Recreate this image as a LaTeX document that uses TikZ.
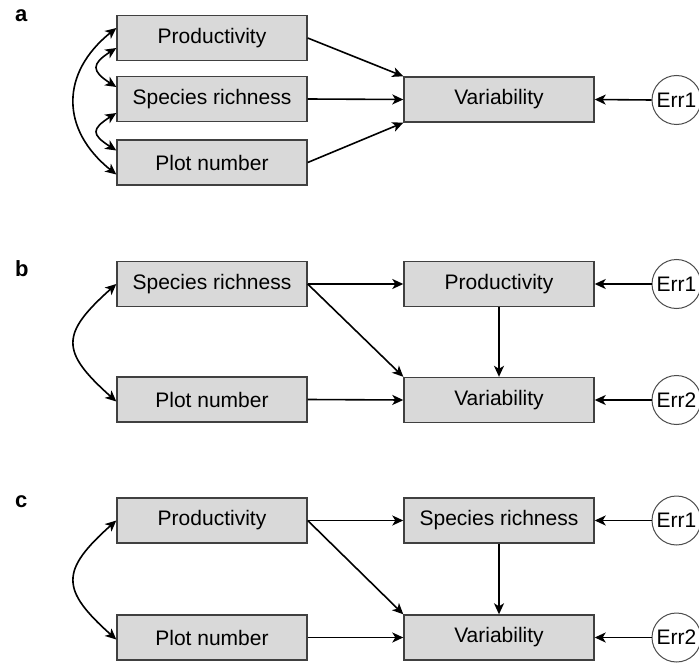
\documentclass[tikz,border=0pt]{standalone}
\usepackage{fontspec}
\setmainfont{Liberation Sans}
\usetikzlibrary{arrows.meta,calc}
\begin{document}
\begin{tikzpicture}[x=1pt,y=-1pt,
  box/.style={draw=black!75, fill=black!15, line width=1.4pt, minimum width=190pt, minimum height=45pt, inner sep=0pt, font=\fontsize{21}{25}\selectfont},
  err/.style={circle, draw=black!70, line width=1pt, minimum size=49pt, inner sep=0pt, fill=white, font=\fontsize{21}{25}\selectfont},
  arr/.style={-{Stealth[length=11pt,width=10pt,inset=3pt]}, line width=1.6pt},
  darr/.style={{Stealth[length=11pt,width=10pt,inset=3pt]}-{Stealth[length=11pt,width=10pt,inset=3pt]}, line width=1.6pt},
  lab/.style={anchor=base west, inner sep=0pt, font=\fontsize{22}{26}\selectfont\bfseries}]
\useasboundingbox (0,0) rectangle (699,666);

% panel labels
\node[lab] (la) at (15,22) {a};
\node[lab] (lb) at (15,276) {b};
\node[lab] (lc) at (15,507) {c};

% ---------- panel a ----------
\node[box] (aP) at (212,38) {Productivity};
\node[box] (aS) at (212,99) {Species richness};
\node[box] (aN) at (212,162.5) {Plot number};
\node[box] (aV) at (499,99.5) {Variability};
\node[err] (aE) at (676.5,100) {Err1};
\draw[arr] (aP.east) -- (aV.north west);
\draw[arr] (aS.east) -- (aV.west);
\draw[arr] (aN.east) -- (aV.south west);
\draw[arr] (aE.west) -- (aV.east);
\draw[darr] ([yshift=10pt]aP.west) .. controls +(-56,45) and +(-56,-45) .. ([yshift=-12pt]aN.west);
\draw[darr] ([yshift=-10pt]aP.west) .. controls +(-25,16) and +(-25,-16) .. ([yshift=12pt]aS.west);
\draw[darr] ([yshift=-14pt]aS.west) .. controls +(-25,16) and +(-25,-16) .. ([yshift=12pt]aN.west);

% ---------- panel b ----------
\node[box] (bS) at (212,284) {Species richness};
\node[box] (bN) at (212,399.5) {Plot number};
\node[box] (bP) at (499,284) {Productivity};
\node[box] (bV) at (499,400) {Variability};
\node[err] (bE1) at (676.5,284) {Err1};
\node[err] (bE2) at (676.5,400) {Err2};
\draw[arr] (bS.east) -- (bP.west);
\draw[arr] (bS.east) -- (bV.north west);
\draw[arr] (bP.south) -- (bV.north);
\draw[arr] (bN.east) -- (bV.west);
\draw[arr] (bE1.west) -- (bP.east);
\draw[arr] (bE2.west) -- (bV.east);
\draw[darr] (bS.west) .. controls +(-56,50) and +(-56,-50) .. ([yshift=-2pt]bN.west);

% ---------- panel c ----------
\node[box] (cP) at (212,520.5) {Productivity};
\node[box] (cN) at (212,637.5) {Plot number};
\node[box] (cS) at (499,520.5) {Species richness};
\node[box] (cV) at (499,637.5) {Variability};
\node[err] (cE1) at (676.5,520.5) {Err1};
\node[err] (cE2) at (676.5,637.5) {Err2};
\draw[arr] (cP.east) -- (cS.west);
\draw[arr] (cP.east) -- (cV.north west);
\draw[arr] (cS.south) -- (cV.north);
\draw[arr] (cN.east) -- (cV.west);
\draw[arr] (cE1.west) -- (cS.east);
\draw[arr] (cE2.west) -- (cV.east);
\draw[darr] (cP.west) .. controls +(-56,50) and +(-56,-50) .. ([yshift=-2pt]cN.west);
\end{tikzpicture}
\end{document}
